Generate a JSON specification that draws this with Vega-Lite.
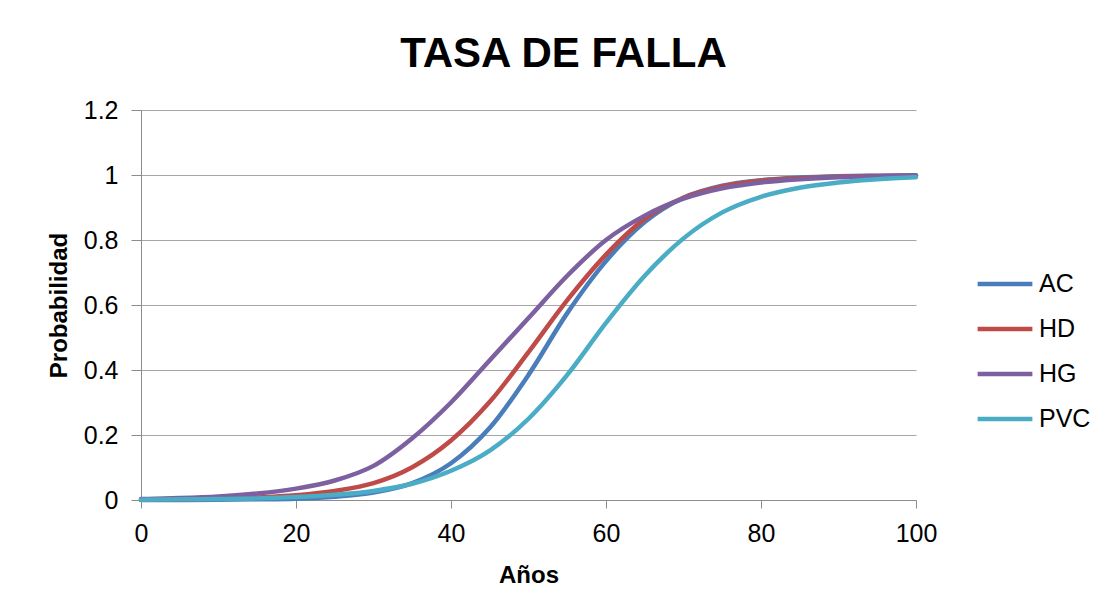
{
  "$schema": "https://vega.github.io/schema/vega-lite/v6.json",
  "width": 775,
  "height": 390,
  "autosize": {"type": "none"},
  "padding": {"left": 141, "top": 110, "right": 200, "bottom": 111},
  "background": "white",
  "config": {
    "view": {"stroke": null},
    "font": "Liberation Sans"
  },
  "title": {
    "text": "TASA DE FALLA",
    "font": "Liberation Sans",
    "fontSize": 42,
    "fontWeight": "bold",
    "color": "#000000",
    "frame": "group",
    "anchor": "middle",
    "baseline": "alphabetic",
    "offset": 40,
    "dx": 35,
    "dy": 51
  },
  "data": {
    "values": [
      {"anio": 0, "serie": "AC", "prob": 0.0},
      {"anio": 5, "serie": "AC", "prob": 0.0},
      {"anio": 10, "serie": "AC", "prob": 0.001},
      {"anio": 15, "serie": "AC", "prob": 0.002},
      {"anio": 20, "serie": "AC", "prob": 0.004},
      {"anio": 25, "serie": "AC", "prob": 0.01},
      {"anio": 30, "serie": "AC", "prob": 0.023},
      {"anio": 35, "serie": "AC", "prob": 0.052},
      {"anio": 40, "serie": "AC", "prob": 0.113},
      {"anio": 45, "serie": "AC", "prob": 0.222},
      {"anio": 50, "serie": "AC", "prob": 0.385},
      {"anio": 55, "serie": "AC", "prob": 0.575},
      {"anio": 60, "serie": "AC", "prob": 0.735},
      {"anio": 65, "serie": "AC", "prob": 0.855},
      {"anio": 70, "serie": "AC", "prob": 0.93},
      {"anio": 75, "serie": "AC", "prob": 0.967},
      {"anio": 80, "serie": "AC", "prob": 0.984},
      {"anio": 85, "serie": "AC", "prob": 0.992},
      {"anio": 90, "serie": "AC", "prob": 0.996},
      {"anio": 95, "serie": "AC", "prob": 0.998},
      {"anio": 100, "serie": "AC", "prob": 0.999},

      {"anio": 0, "serie": "HD", "prob": 0.001},
      {"anio": 5, "serie": "HD", "prob": 0.002},
      {"anio": 10, "serie": "HD", "prob": 0.004},
      {"anio": 15, "serie": "HD", "prob": 0.008},
      {"anio": 20, "serie": "HD", "prob": 0.015},
      {"anio": 25, "serie": "HD", "prob": 0.028},
      {"anio": 30, "serie": "HD", "prob": 0.052},
      {"anio": 35, "serie": "HD", "prob": 0.101},
      {"anio": 40, "serie": "HD", "prob": 0.183},
      {"anio": 45, "serie": "HD", "prob": 0.302},
      {"anio": 50, "serie": "HD", "prob": 0.455},
      {"anio": 55, "serie": "HD", "prob": 0.615},
      {"anio": 60, "serie": "HD", "prob": 0.755},
      {"anio": 65, "serie": "HD", "prob": 0.865},
      {"anio": 70, "serie": "HD", "prob": 0.93},
      {"anio": 75, "serie": "HD", "prob": 0.965},
      {"anio": 80, "serie": "HD", "prob": 0.982},
      {"anio": 85, "serie": "HD", "prob": 0.99},
      {"anio": 90, "serie": "HD", "prob": 0.995},
      {"anio": 95, "serie": "HD", "prob": 0.997},
      {"anio": 100, "serie": "HD", "prob": 0.998},

      {"anio": 0, "serie": "HG", "prob": 0.003},
      {"anio": 5, "serie": "HG", "prob": 0.006},
      {"anio": 10, "serie": "HG", "prob": 0.011},
      {"anio": 15, "serie": "HG", "prob": 0.02},
      {"anio": 20, "serie": "HG", "prob": 0.035},
      {"anio": 25, "serie": "HG", "prob": 0.06},
      {"anio": 30, "serie": "HG", "prob": 0.105},
      {"anio": 35, "serie": "HG", "prob": 0.19},
      {"anio": 40, "serie": "HG", "prob": 0.3},
      {"anio": 45, "serie": "HG", "prob": 0.43},
      {"anio": 50, "serie": "HG", "prob": 0.56},
      {"anio": 55, "serie": "HG", "prob": 0.69},
      {"anio": 60, "serie": "HG", "prob": 0.8},
      {"anio": 65, "serie": "HG", "prob": 0.875},
      {"anio": 70, "serie": "HG", "prob": 0.927},
      {"anio": 75, "serie": "HG", "prob": 0.959},
      {"anio": 80, "serie": "HG", "prob": 0.977},
      {"anio": 85, "serie": "HG", "prob": 0.987},
      {"anio": 90, "serie": "HG", "prob": 0.993},
      {"anio": 95, "serie": "HG", "prob": 0.996},
      {"anio": 100, "serie": "HG", "prob": 0.998},

      {"anio": 0, "serie": "PVC", "prob": 0.001},
      {"anio": 5, "serie": "PVC", "prob": 0.002},
      {"anio": 10, "serie": "PVC", "prob": 0.003},
      {"anio": 15, "serie": "PVC", "prob": 0.005},
      {"anio": 20, "serie": "PVC", "prob": 0.009},
      {"anio": 25, "serie": "PVC", "prob": 0.016},
      {"anio": 30, "serie": "PVC", "prob": 0.028},
      {"anio": 35, "serie": "PVC", "prob": 0.05},
      {"anio": 40, "serie": "PVC", "prob": 0.09},
      {"anio": 45, "serie": "PVC", "prob": 0.152},
      {"anio": 50, "serie": "PVC", "prob": 0.25},
      {"anio": 55, "serie": "PVC", "prob": 0.385},
      {"anio": 60, "serie": "PVC", "prob": 0.545},
      {"anio": 65, "serie": "PVC", "prob": 0.69},
      {"anio": 70, "serie": "PVC", "prob": 0.805},
      {"anio": 75, "serie": "PVC", "prob": 0.885},
      {"anio": 80, "serie": "PVC", "prob": 0.933},
      {"anio": 85, "serie": "PVC", "prob": 0.961},
      {"anio": 90, "serie": "PVC", "prob": 0.977},
      {"anio": 95, "serie": "PVC", "prob": 0.987},
      {"anio": 100, "serie": "PVC", "prob": 0.993}
    ]
  },
  "mark": {"type": "line", "interpolate": "monotone", "strokeWidth": 4.5, "strokeCap": "round"},
  "encoding": {
    "x": {
      "field": "anio",
      "type": "quantitative",
      "scale": {"domain": [0, 100], "nice": false, "zero": true},
      "axis": {
        "title": "Años",
        "titleFont": "Liberation Sans",
        "titleFontSize": 24,
        "titleFontWeight": "bold",
        "titleColor": "#000000",
        "titleBaseline": "alphabetic",
        "titleY": 82,
        "values": [0, 20, 40, 60, 80, 100],
        "grid": false,
        "domainColor": "#8c8c8c",
        "domainWidth": 1,
        "tickColor": "#8c8c8c",
        "tickSize": 8,
        "labelPadding": 13,
        "labelFont": "Liberation Sans",
        "labelFontSize": 25,
        "labelColor": "#000000",
        "labelFlush": false,
        "labelOverlap": false
      }
    },
    "y": {
      "field": "prob",
      "type": "quantitative",
      "scale": {"domain": [0, 1.2], "nice": false},
      "axis": {
        "title": "Probabilidad",
        "titleFont": "Liberation Sans",
        "titleFontSize": 24,
        "titleFontWeight": "bold",
        "titleColor": "#000000",
        "titleAngle": 270,
        "titleAlign": "center",
        "titleBaseline": "middle",
        "titleX": -82,
        "titleY": 195,
        "values": [0, 0.2, 0.4, 0.6, 0.8, 1, 1.2],
        "format": "~g",
        "grid": true,
        "gridColor": "#a6a6a6",
        "gridWidth": 1,
        "domainColor": "#8c8c8c",
        "domainWidth": 1,
        "tickColor": "#8c8c8c",
        "tickSize": 10,
        "labelPadding": 13,
        "labelFont": "Liberation Sans",
        "labelFontSize": 25,
        "labelColor": "#000000",
        "labelOverlap": false
      }
    },
    "color": {
      "field": "serie",
      "type": "nominal",
      "scale": {
        "domain": ["AC", "HD", "HG", "PVC"],
        "range": ["#4A7EBB", "#BE4B48", "#7D60A0", "#4BACC6"]
      },
      "legend": {
        "title": null,
        "orient": "none",
        "legendX": 834,
        "legendY": 144,
        "padding": 0,
        "symbolType": "stroke",
        "symbolSize": 3000,
        "symbolStrokeWidth": 4.5,
        "labelFont": "Liberation Sans",
        "labelFontSize": 25,
        "labelColor": "#000000",
        "labelOffset": 4,
        "rowPadding": 2
      }
    }
  }
}
